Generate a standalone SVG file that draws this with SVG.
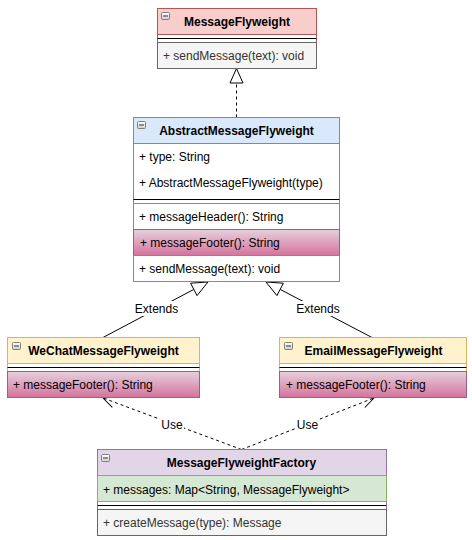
<svg xmlns="http://www.w3.org/2000/svg" width="472" height="540" viewBox="0 0 472 540">
<style>
text{font-family:"Liberation Sans",Arial,sans-serif;font-size:12px}
.h{font-weight:bold;text-anchor:middle;fill:#000}
.m{fill:#000}
.g{fill:#333}
.lbl{text-anchor:middle;fill:#000}
.sep{stroke:#000;stroke-width:1}
.ln{stroke:#000;stroke-width:1;fill:none}
.dash{stroke-dasharray:3 3}
.ico{fill:url(#icoG);stroke:#7f7f7f;stroke-width:1}
.icom{stroke:#333;stroke-width:1}
</style>
<defs>
<linearGradient id="pink" x1="0" y1="0" x2="0" y2="1"><stop offset="0" stop-color="#e6d0de"/><stop offset="1" stop-color="#d5739d"/></linearGradient>
<linearGradient id="icoG" x1="0" y1="0" x2="0" y2="1"><stop offset="0" stop-color="#ffffff"/><stop offset="1" stop-color="#cfcfcf"/></linearGradient>
<marker id="open" markerUnits="userSpaceOnUse" viewBox="0 0 14 14" refX="13" refY="7" markerWidth="14" markerHeight="14" orient="auto">
<path d="M1,1.5 L13,7 L1,12.5" fill="none" stroke="#000" stroke-width="1"/>
</marker>
</defs>

<g id="connectors">
<line class="ln dash" x1="236.5" y1="117.5" x2="236.5" y2="83"/>
<path d="M236.5,68.5 L230,83 L243,83 Z" fill="#fff" stroke="#000"/>
<line class="ln" x1="103" y1="337.5" x2="193.8" y2="289.4"/>
<path d="M208,282 L197,295.6 L190.6,283.2 Z" fill="#fff" stroke="#000"/>
<rect x="134" y="301" width="45" height="15" fill="#fff"/>
<text class="lbl" x="156.5" y="313">Extends</text>
<line class="ln" x1="372" y1="337.5" x2="280.2" y2="289.4"/>
<path d="M266,282 L276.9,295.6 L283.4,283.2 Z" fill="#fff" stroke="#000"/>
<rect x="295.5" y="301" width="45" height="15" fill="#fff"/>
<text class="lbl" x="318" y="313">Extends</text>
<line class="ln dash" x1="241.5" y1="449.5" x2="103" y2="398" marker-end="url(#open)"/>
<line class="ln dash" x1="241.5" y1="449.5" x2="374" y2="398" marker-end="url(#open)"/>
<rect x="160" y="417" width="24" height="14" fill="#fff"/>
<text class="lbl" x="172" y="428.5">Use</text>
<rect x="295.5" y="417" width="24" height="14" fill="#fff"/>
<text class="lbl" x="307.5" y="428.5">Use</text>
</g>

<g id="MessageFlyweight">
<rect x="157.5" y="8.5" width="159" height="60" fill="#fff" stroke="#b85450"/>
<rect x="157.5" y="8.5" width="159" height="26" fill="#f8cecc" stroke="#b85450"/>
<rect class="ico" x="161.5" y="12.5" width="8" height="7" rx="1"/>
<line class="icom" x1="163" y1="16" x2="168" y2="16"/>
<text class="h" x="237" y="26">MessageFlyweight</text>
<line class="sep" x1="157.5" y1="38.5" x2="316.5" y2="38.5"/>
<rect x="157.5" y="42.5" width="159" height="26" fill="#f5f5f5" stroke="#666666"/>
<text class="g" x="163" y="59.5">+ sendMessage(text): void</text>
</g>

<g id="AbstractMessageFlyweight">
<rect x="133.5" y="117.5" width="206" height="164" fill="#fff" stroke="#6c8ebf"/>
<rect x="133.5" y="117.5" width="206" height="26" fill="#dae8fc" stroke="#6c8ebf"/>
<rect class="ico" x="137.5" y="121.5" width="8" height="7" rx="1"/>
<line class="icom" x1="139" y1="125" x2="144" y2="125"/>
<text class="h" x="236.5" y="135">AbstractMessageFlyweight</text>
<text class="m" x="139" y="161">+ type: String</text>
<text class="m" x="139" y="187">+ AbstractMessageFlyweight(type)</text>
<line class="sep" x1="133.5" y1="199.5" x2="339.5" y2="199.5"/>
<rect x="133.5" y="203.5" width="206" height="26" fill="#fff" stroke="#6c8ebf"/>
<text class="m" x="139" y="221">+ messageHeader(): String</text>
<rect x="133.5" y="229.5" width="206" height="26" fill="url(#pink)" stroke="#996185"/>
<text class="m" x="140" y="247">+ messageFooter(): String</text>
<rect x="133.5" y="255.5" width="206" height="26" fill="#fff" stroke="#6c8ebf"/>
<text class="m" x="139" y="273">+ sendMessage(text): void</text>
</g>

<g id="WeChatMessageFlyweight">
<rect x="7.5" y="337.5" width="192" height="60" fill="#fff" stroke="#d6b656"/>
<rect x="7.5" y="337.5" width="192" height="26" fill="#fff2cc" stroke="#d6b656"/>
<rect class="ico" x="12.5" y="342.5" width="8" height="7" rx="1"/>
<line class="icom" x1="14" y1="346" x2="19" y2="346"/>
<text class="h" x="103.5" y="355">WeChatMessageFlyweight</text>
<line class="sep" x1="7.5" y1="367.5" x2="199.5" y2="367.5"/>
<rect x="7.5" y="371.5" width="192" height="26" fill="url(#pink)" stroke="#996185"/>
<text class="m" x="13" y="389">+ messageFooter(): String</text>
</g>

<g id="EmailMessageFlyweight">
<rect x="279.5" y="337.5" width="187" height="60" fill="#fff" stroke="#d6b656"/>
<rect x="279.5" y="337.5" width="187" height="26" fill="#fff2cc" stroke="#d6b656"/>
<rect class="ico" x="284.5" y="342.5" width="8" height="7" rx="1"/>
<line class="icom" x1="286" y1="346" x2="291" y2="346"/>
<text class="h" x="373.5" y="355">EmailMessageFlyweight</text>
<line class="sep" x1="279.5" y1="367.5" x2="466.5" y2="367.5"/>
<rect x="279.5" y="371.5" width="187" height="26" fill="url(#pink)" stroke="#996185"/>
<text class="m" x="286" y="389">+ messageFooter(): String</text>
</g>

<g id="MessageFlyweightFactory">
<rect x="97.5" y="449.5" width="289" height="86" fill="#fff" stroke="#9673a6"/>
<rect x="97.5" y="449.5" width="289" height="26" fill="#e1d5e7" stroke="#9673a6"/>
<rect class="ico" x="101.5" y="454.5" width="8" height="7" rx="1"/>
<line class="icom" x1="103" y1="458" x2="108" y2="458"/>
<text class="h" x="241.5" y="467">MessageFlyweightFactory</text>
<rect x="97.5" y="475.5" width="289" height="26" fill="#d5e8d4" stroke="#82b366"/>
<text class="m" x="103" y="493.5">+ messages: Map&lt;String, MessageFlyweight&gt;</text>
<line class="sep" x1="97.5" y1="505.5" x2="386.5" y2="505.5"/>
<rect x="97.5" y="509.5" width="289" height="26" fill="#f5f5f5" stroke="#666666"/>
<text class="g" x="103" y="527">+ createMessage(type): Message</text>
</g>
</svg>
